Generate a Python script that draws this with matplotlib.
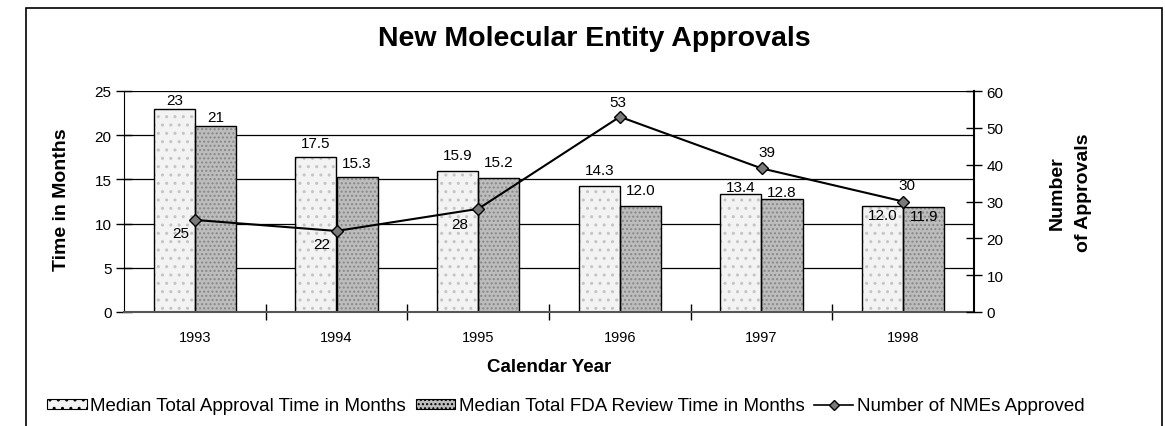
import matplotlib
matplotlib.use('Agg')
import matplotlib.pyplot as plt
from matplotlib.patches import Rectangle, Patch
from matplotlib.lines import Line2D
import numpy as np

plt.rcParams['font.family'] = ['Liberation Sans', 'DejaVu Sans']

years = ['1993', '1994', '1995', '1996', '1997', '1998']
approval_time = [23, 17.5, 15.9, 14.3, 13.4, 12.0]
approval_labels = ['23', '17.5', '15.9', '14.3', '13.4', '12.0']
review_time = [21, 15.3, 15.2, 12.0, 12.8, 11.9]
review_labels = ['21', '15.3', '15.2', '12.0', '12.8', '11.9']
nme_count = [25, 22, 28, 53, 39, 30]

light_fc = '#f3f3f3'
gray_fc = '#bdbdbd'

fig = plt.figure(figsize=(11.65, 4.27), dpi=100)
ax = fig.add_axes([124 / 1165, 1 - 313 / 427, 850 / 1165, 221 / 427])
ax2 = ax.twinx()

x = np.arange(len(years))
w = 0.29

# gridlines behind bars
for v in [5, 10, 15, 20, 25]:
    ax.axhline(v, color='black', lw=0.9, zorder=0)

# bars: dotted fill first, then black outline
ax.bar(x - w / 2, approval_time, w, color=light_fc, hatch='..', edgecolor='#c4c4c4', lw=0, zorder=1)
ax.bar(x - w / 2, approval_time, w, fill=False, edgecolor='black', lw=1.0, zorder=2)
ax.bar(x + w / 2, review_time, w, color=gray_fc, hatch='....', edgecolor='#888888', lw=0, zorder=1)
ax.bar(x + w / 2, review_time, w, fill=False, edgecolor='black', lw=1.0, zorder=2)

# value labels sit above the bars, except in 1998 where they fall just inside
label_dy = [9, 14, 16, 16, 7, -9]
for xi, v, t, dy in zip(x, approval_time, approval_labels, label_dy):
    ax.annotate(t, (xi - w / 2, v), xytext=(0, dy), textcoords='offset pixels',
                ha='center', va='center', fontsize=11, zorder=6)
for xi, v, t, dy in zip(x, review_time, review_labels, label_dy):
    ax.annotate(t, (xi + w / 2, v), xytext=(0, dy), textcoords='offset pixels',
                ha='center', va='center', fontsize=11, zorder=6)

ax.set_xlim(-0.5, len(years) - 0.5)
ax.set_ylim(0, 25)
ax.set_yticks([0, 5, 10, 15, 20, 25])
ax.set_xticks(np.arange(len(years) - 1) + 0.5)
ax.set_xticklabels([])
ax.set_xticks(x, minor=True)
ax.set_xticklabels(years, minor=True, fontsize=10.5)
ax.tick_params(axis='x', which='major', direction='inout', length=11, width=1)
ax.tick_params(axis='x', which='minor', length=0, pad=13)
ax.tick_params(axis='y', direction='inout', length=12, width=1, labelsize=11, pad=3)
ax.spines['bottom'].set_color('#555555')
ax.spines['bottom'].set_linewidth(1.5)

ax.set_xlabel('Calendar Year', fontsize=13.5, fontweight='bold', labelpad=10)

# number of NMEs approved on the right axis
ax2.plot(x, nme_count, color='black', lw=1.5, marker='D', markersize=6,
         markerfacecolor='#7a7a7a', markeredgecolor='black', zorder=5)
offsets = [(-14, -13), (-15, -13), (-18, -15), (-2, 15), (5, 16), (4, 16)]
for xi, v, (dx, dy) in zip(x, nme_count, offsets):
    ax2.annotate(str(v), (xi, v), xytext=(dx, dy), textcoords='offset pixels',
                 ha='center', va='center', fontsize=11)
ax2.set_ylim(0, 60)
ax2.set_yticks([0, 10, 20, 30, 40, 50, 60])
ax2.tick_params(axis='y', direction='inout', length=12, width=1, labelsize=11, pad=3)
ax2.spines['right'].set_linewidth(1.5)

for a in (ax, ax2):
    a.spines['top'].set_visible(False)
ax.spines['right'].set_visible(False)
ax2.spines['left'].set_visible(False)
ax2.spines['bottom'].set_visible(False)

fig.text(61 / 1165, 1 - 200 / 427, 'Time in Months', rotation=90, ha='center', va='center',
         fontsize=14, fontweight='bold')
fig.text(1070 / 1165, 1 - 193 / 427, 'Number\nof Approvals', rotation=90, ha='center',
         va='center', fontsize=14, fontweight='bold', linespacing=1.7, multialignment='center')
fig.text(594 / 1165, 1 - 39 / 427, 'New Molecular Entity Approvals', ha='center', va='center',
         fontsize=20.5, fontweight='bold')

# chart border
fig.patches.append(Rectangle((26 / 1165, -0.05), (1162 - 26) / 1165, 1.05 - 9 / 427,
                             transform=fig.transFigure, fill=False, edgecolor='black', lw=1.2))

handles = [
    Patch(facecolor=light_fc, edgecolor='black', hatch='..', lw=0.8),
    Patch(facecolor=gray_fc, edgecolor='black', hatch='....', lw=0.8),
    Line2D([], [], color='black', lw=1.2, marker='D', markersize=5,
           markerfacecolor='#7a7a7a', markeredgecolor='black'),
]
labels = ['Median Total Approval Time in Months', 'Median Total FDA Review Time in Months',
          'Number of NMEs Approved']
fig.legend(handles, labels, loc='center', bbox_to_anchor=(566 / 1165, 1 - 407 / 427), ncol=3,
           frameon=False, fontsize=13.5, handlelength=2.1, handleheight=0.5, handletextpad=0.2,
           columnspacing=0.5)

fig.savefig('out.png', dpi=100)
